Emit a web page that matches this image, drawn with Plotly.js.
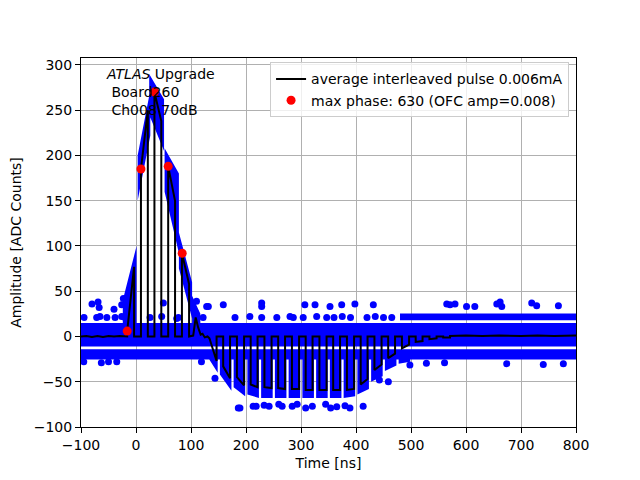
<!DOCTYPE html>
<html>
<head>
<meta charset="utf-8">
<script src="https://cdn.plot.ly/plotly-3.0.1.min.js"></script>
<style>
  html, body { margin: 0; padding: 0; background: #fff; }
  #myPlot { width: 640px; height: 480px; }
</style>
</head>
<body>
<div id="myPlot"></div>
<script>
// average interleaved pulse (black line)
var pulseTime = [-100, -90, -80, -70, -60, -50, -40, -30, -16,
  -16, -3.5, -3.5, 9, 9, 21.5, 21.5, 33.5, 33.5, 46, 46,
  58.5, 58.5, 71, 71, 83.5, 83.5, 96.5, 96.5,
  104, 108.5, 113, 117.5, 121, 125, 130,
  133.5, 146.5, 146.5, 158.5, 158.5, 171, 171,
  183.5, 183.5, 196.5, 196.5, 208.5, 208.5, 221, 221,
  233.5, 233.5, 246.5, 246.5, 258.5, 258.5, 271, 271,
  283.5, 283.5, 296.5, 296.5, 308.5, 308.5, 321, 321,
  333.5, 333.5, 346.5, 346.5, 358.5, 358.5, 371, 371,
  383.5, 383.5, 396.5, 396.5, 408.5, 408.5, 421, 421,
  433.5, 433.5, 446.5, 446.5, 458.5, 458.5, 471, 471,
  483.5, 483.5, 496.5, 496.5, 508.5, 508.5, 521, 521,
  533.5, 533.5, 546.5, 546.5, 558.5, 558.5, 571, 571,
  600, 630, 660, 700, 730, 760, 800];
var pulseAmp = [0, 0.5, -0.5, 0.5, -0.5, 0.5, 0, 0.5, 0,
  6, 77, 0, 0, 185, 250, 0, 0, 270, 238, 0,
  0, 188, 150, 0, 0, 92, 58, 0,
  1, 21, 10, 2, 3, -1, 0,
  -2, -27, 0, 0, -33, -46, 0,
  0, -45, -54, 0, 0, -53, -56, 0,
  0, -56, -57, 0, 0, -57, -58, 0,
  0, -58, -58, 0, 0, -59, -59, 0,
  0, -59, -59, 0, 0, -59, -59, 0,
  0, -59, -58, 0, 0, -53, -47, 0,
  0, -37, -31, 0, 0, -24, -19, 0,
  0, -13, -9, 0, 0, -6, -5, 0,
  0, -3, -2, 0, 0, -1, -1, 0.5,
  1, 0.5, 1, 0.5, 1, 0.5, 1];

// max phase samples (red)
var maxPhaseTime = [-16, 9, 33.5, 58.5, 84];
var maxPhaseAmp = [6, 185, 270, 188, 92];

// spread of individual samples (blue): baseline bands (main band, lower strip, dense upper strip)
var bandStart = [-100, -100, 480];
var bandEnd = [800, 800, 800];
var bandHigh = [15, -14, 25.5];
var bandLow = [-11, -25.5, 18];

// spread of individual samples (blue): pulse columns
var colStart = [-24, 3, 24, 52, 78, 102, 127.5, 152.5, 177.5, 202.5, 227.5, 252.5,
  277.5, 302.5, 327.5, 352.5, 377.5, 402.5, 427.5, 452.5, 477.5];
var colEnd = [1, 26, 51, 78, 102, 117, 148.5, 173.5, 198.5, 223.5, 248.5, 273.5,
  298.5, 323.5, 348.5, 373.5, 398.5, 423.5, 448.5, 473.5, 498.5];
var colHighStart = [40, 200, 290, 208, 115, 45, -14, -14, -14, -14, -14, -14,
  -14, -14, -14, -14, -14, -14, -14, -14, -14];
var colHighEnd = [100, 272, 262, 180, 60, 25, -14, -14, -14, -14, -14, -14,
  -14, -14, -14, -14, -14, -14, -14, -14, -14];
var colLowStart = [15, 150, 245, 160, 75, 15, -20, -42, -56, -64, -68, -68,
  -68, -68, -68, -68, -68, -64, -50, -38, -30];
var colLowEnd = [15, 222, 205, 92, 20, 15, -40, -60, -66, -68, -68, -68,
  -68, -68, -68, -68, -66, -58, -44, -32, -28];

// sparse upper strip samples (blue)
var stripTime = [-94.5, -71.5, -65.5, -53, -38, -26, -20, 25.5, 46.7, 77, 110, 122,
  180, 207, 228.5, 256, 280, 286, 304, 328.5, 346.7, 360, 375, 390, 420, 435, 450, 465];
var stripAmp = [21, 21, 22, 21, 21, 22, 21, 21, 22, 21, 22, 21,
  21, 22, 21, 21, 22, 21, 21, 22, 21, 21, 22, 21, 21, 22, 21, 21];

// isolated samples (blue)
var strayTime = [-80, -69, -67, -26, -40, -95, -63, -50, -35,
  -23, 49.7, 74, 110, 128.5, 158.7, 131.5, 228.5, 228.5, 307, 325.5, 352.7, 374, 398, 431.5,
  565, 571, 580, 601, 616, 656, 662, 665, 719.5, 728.5, 768,
  674, 740.5, 777, 498, 528, 561, 119, 94, 143.6,
  186, 213, 218.5, 233, 242, 259.6, 265.7, 284, 293, 308.5, 320.6, 344.8, 353.9,
  365, 380, 389, 413, 442.5, 458.8, 189];
var strayAmp = [36, 38, 32, 35, 30, -28, -29, -28, -28,
  42, 37, 20, 39, 33, 35, 33, 37, 33, 35, 35, 33, 35, 36, 35,
  36, 35, 36, 33, 33, 36, 38, 33, 37, 34, 34,
  -30, -31, -30, -31.5, -29.5, -29, -28, -19, -46,
  -79, -77, -77, -76, -77, -75, -77, -77, -75, -79, -77, -75, -79,
  -77.5, -76.6, -79, -77, -48, -50, -79];

// polygons for the blue spread, built from the arrays above
var spreadX = [], spreadY = [];
for (var i = 0; i < bandStart.length; i++) {
  spreadX.push(bandStart[i], bandEnd[i], bandEnd[i], bandStart[i], null);
  spreadY.push(bandHigh[i], bandHigh[i], bandLow[i], bandLow[i], null);
}
for (var j = 0; j < colStart.length; j++) {
  spreadX.push(colStart[j], colEnd[j], colEnd[j], colStart[j], null);
  spreadY.push(colHighStart[j], colHighEnd[j], colLowEnd[j], colLowStart[j], null);
}

var font = {family: 'DejaVu Sans, sans-serif', size: 14, color: '#000'};

let spreadTrace = {
  x: spreadX, y: spreadY,
  mode: 'lines', type: 'scatter',
  fill: 'toself', fillcolor: '#0000ff',
  line: {color: '#0000ff', width: 0},
  connectgaps: false,
  hoverinfo: 'skip', showlegend: false
};
let stripTrace = {
  x: stripTime, y: stripAmp,
  mode: 'markers', type: 'scatter',
  marker: {color: '#0000ff', size: 7},
  showlegend: false
};
let strayTrace = {
  x: strayTime, y: strayAmp,
  mode: 'markers', type: 'scatter',
  marker: {color: '#0000ff', size: 7},
  showlegend: false
};
let pulseTrace = {
  x: pulseTime, y: pulseAmp,
  mode: 'lines', type: 'scatter',
  line: {color: '#000000', width: 2},
  name: 'average interleaved pulse 0.006mA'
};
let maxTrace = {
  x: maxPhaseTime, y: maxPhaseAmp,
  mode: 'markers', type: 'scatter',
  marker: {color: '#ff0000', size: 9},
  name: 'max phase: 630 (OFC amp=0.008)'
};

let layout = {
  width: 640, height: 480,
  margin: {l: 81, r: 64, t: 58, b: 53},
  paper_bgcolor: '#fff', plot_bgcolor: '#fff',
  font: font,
  xaxis: {
    range: [-100, 800], dtick: 100, tick0: 0,
    showgrid: true, gridcolor: '#b0b0b0', gridwidth: 1,
    zeroline: false, showline: true, linecolor: '#000', linewidth: 1, mirror: true,
    ticks: 'outside', ticklen: 5, tickcolor: '#000',
    tickfont: font,
    title: {text: 'Time [ns]', font: font, standoff: 6}
  },
  yaxis: {
    range: [-100, 307.7], dtick: 50, tick0: 0,
    showgrid: true, gridcolor: '#b0b0b0', gridwidth: 1,
    zeroline: false, showline: true, linecolor: '#000', linewidth: 1, mirror: true,
    ticks: 'outside', ticklen: 5, tickcolor: '#000',
    tickfont: font,
    title: {text: 'Amplitude [ADC Counts]', font: font, standoff: 8}
  },
  legend: {
    x: 0.986, y: 0.988, xanchor: 'right', yanchor: 'top',
    bgcolor: 'rgba(255,255,255,0.8)', bordercolor: '#cccccc', borderwidth: 1,
    font: font
  },
  annotations: [{
    xref: 'paper', yref: 'paper', x: 0.046, y: 0.985,
    xanchor: 'left', yanchor: 'top', align: 'left', showarrow: false,
    text: '<i>ATLAS</i> Upgrade<br>\u00a0Board260<br>\u00a0Ch008 70dB',
    font: font
  }]
};

Plotly.newPlot('myPlot', [spreadTrace, stripTrace, strayTrace, pulseTrace, maxTrace], layout, {staticPlot: true});
</script>
</body>
</html>
